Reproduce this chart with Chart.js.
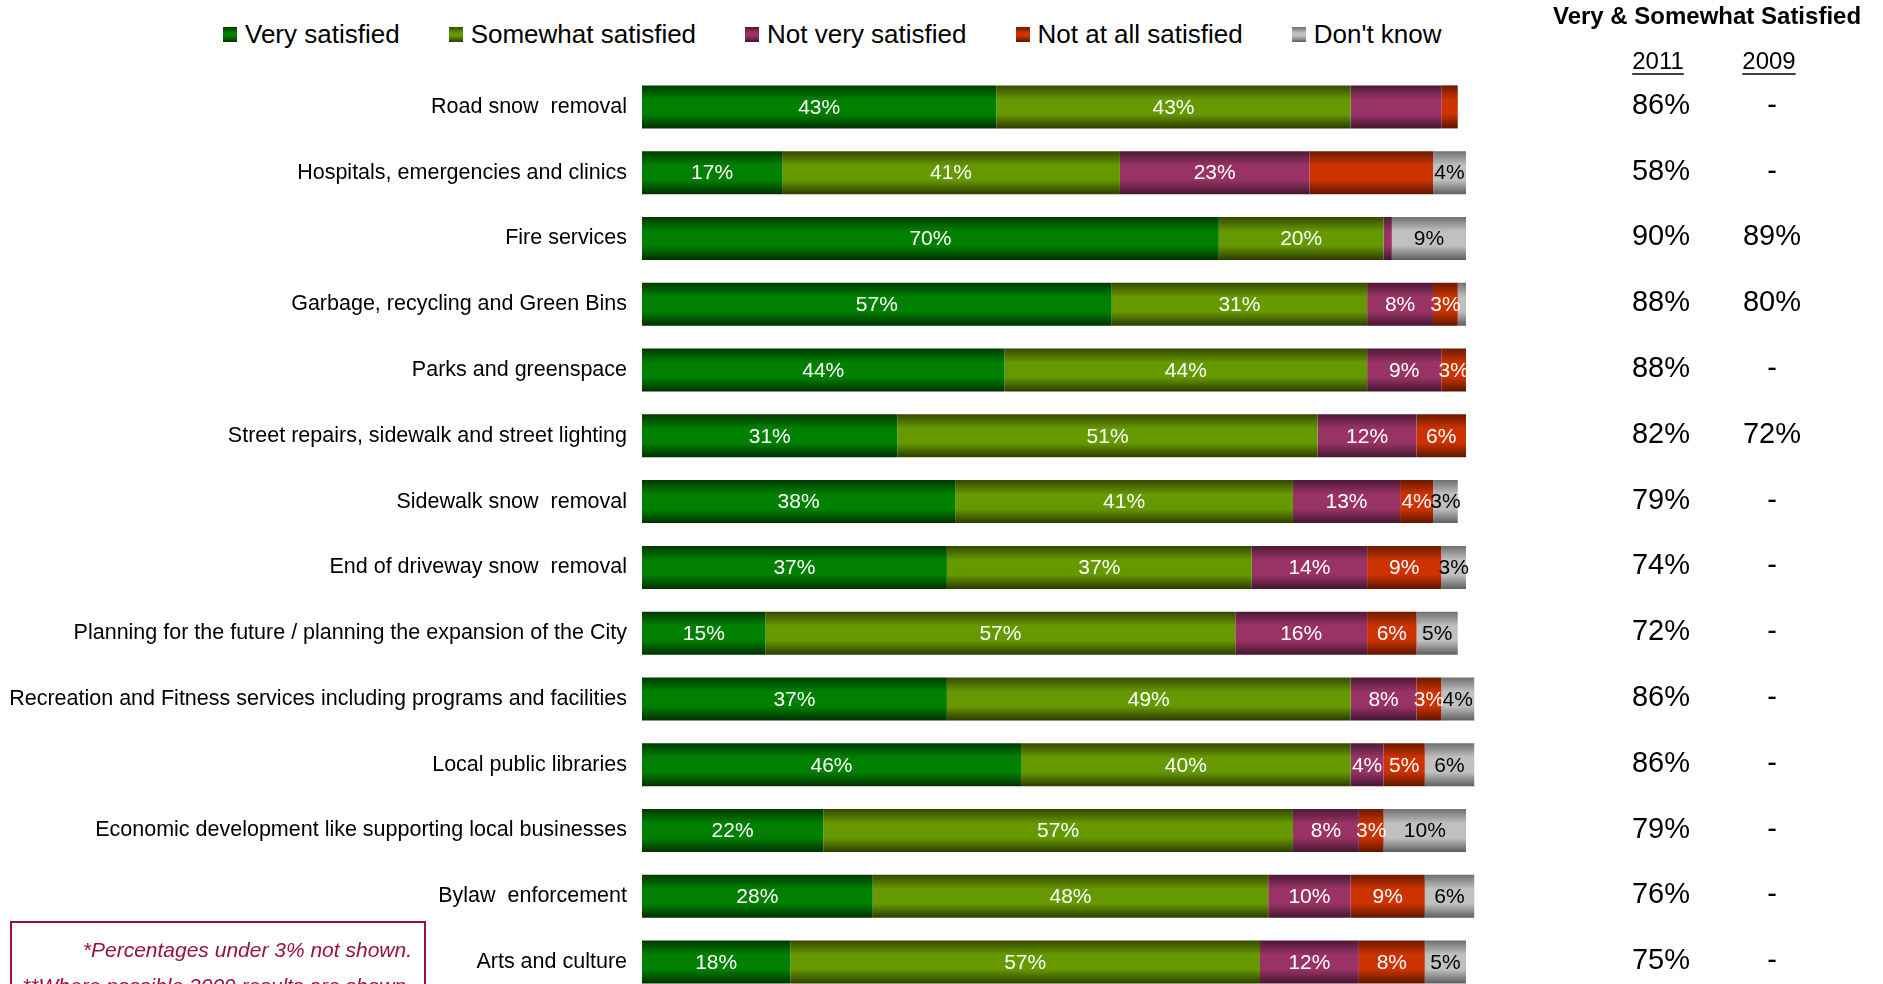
<!DOCTYPE html>
<html>
<head>
<meta charset="utf-8">
<title>Satisfaction with city services</title>
<script src="https://cdn.jsdelivr.net/npm/chart.js@4.4.1/dist/chart.umd.min.js"></script>
<style>
    html, body { margin: 0; padding: 0; background: #fff; overflow: hidden; }
    body { width: 1883px; height: 984px; position: relative; font-family: 'Liberation Sans', Arial, sans-serif; }
    #chart { position: absolute; left: 0; top: 0; }
    .legend { position: absolute; left: 223px; top: 18px; display: flex; gap: 49px; font-size: 26px; line-height: 32px; color: #000; white-space: nowrap; }
    .legend .item { display: flex; align-items: center; }
    .legend i { display: inline-block; width: 14px; height: 15px; margin-right: 8px; }
    .note { position: absolute; left: 10px; top: 921px; width: 416px; height: 120px; box-sizing: border-box;
            border: 2px solid #9c0f3f; padding: 9px 12px 0 0; text-align: right;
            font-style: italic; font-size: 21px; line-height: 36px; color: #9c0f3f; white-space: nowrap; }
</style>
</head>
<body>
<div class="legend" id="legend"></div>
<canvas id="chart" width="1883" height="995"></canvas>
<div class="note">
    <div>*Percentages under 3% not shown.</div>
    <div>**Where possible 2009 results are shown.</div>
</div>
<script>
const FONT = "'Liberation Sans', Arial, sans-serif";

const categories = [
    'Road snow  removal',
    'Hospitals, emergencies and clinics',
    'Fire services',
    'Garbage, recycling and Green Bins',
    'Parks and greenspace',
    'Street repairs, sidewalk and street lighting',
    'Sidewalk snow  removal',
    'End of driveway snow  removal',
    'Planning for the future / planning the expansion of the City',
    'Recreation and Fitness services including programs and facilities',
    'Local public libraries',
    'Economic development like supporting local businesses',
    'Bylaw  enforcement',
    'Arts and culture'
];

const seriesNames = ['Very satisfied', 'Somewhat satisfied', 'Not very satisfied', 'Not at all satisfied', "Don't know"];

const verySatisfied     = [43, 17, 70, 57, 44, 31, 38, 37, 15, 37, 46, 22, 28, 18];
const somewhatSatisfied = [43, 41, 20, 31, 44, 51, 41, 37, 57, 49, 40, 57, 48, 57];
const notVerySatisfied  = [11, 23,  1,  8,  9, 12, 13, 14, 16,  8,  4,  8, 10, 12];
const notAtAllSatisfied = [ 2, 15,  0,  3,  3,  6,  4,  9,  6,  3,  5,  3,  9,  8];
const dontKnow          = [ 0,  4,  9,  1,  0,  0,  3,  3,  5,  4,  6, 10,  6,  5];

// very & somewhat satisfied, null = no 2009 result
const total2011 = [86, 58, 90, 88, 88, 82, 79, 74, 72, 86, 86, 79, 76, 75];
const total2009 = [null, null, 89, 80, null, 72, null, null, null, null, null, null, null, null];

// segments the original leaves unlabelled: [row, series]
const hiddenLabels = [[0, 2], [1, 3]];

// [bright middle, dark top, dark bottom]
const palette = [
    ['#008000', '#003a00', '#003000'],
    ['#669900', '#354800', '#2c3c00'],
    ['#993366', '#4e1a36', '#44162e'],
    ['#cc3300', '#6a1a00', '#5c1600'],
    ['#c0c0c0', '#707070', '#5e5e5e']
];

const BAR_PCT = 0.654;

function barFill(colors) {
    return (context) => {
        const chart = context.chart;
        const y = chart.scales.y;
        if (!y || context.dataIndex === undefined || !chart.chartArea) return colors[0];
        const c = y.getPixelForValue(context.dataIndex);
        const h = (chart.chartArea.height / categories.length) * BAR_PCT / 2;
        const g = chart.ctx.createLinearGradient(0, c - h, 0, c + h);
        g.addColorStop(0, colors[1]);
        g.addColorStop(0.33, colors[0]);
        g.addColorStop(0.67, colors[0]);
        g.addColorStop(1, colors[2]);
        return g;
    };
}

// legend (html)
document.getElementById('legend').innerHTML = seriesNames.map((name, i) => `
    <span class="item"><i style="background: linear-gradient(${palette[i][1]}, ${palette[i][0]} 40%, ${palette[i][0]} 60%, ${palette[i][2]})"></i>${name}</span>
`).join('');

const overlay = {
    id: 'overlay',
    afterDatasetsDraw(chart) {
        const ctx = chart.ctx;
        const yScale = chart.scales.y;
        ctx.save();
        ctx.textAlign = 'center';
        ctx.textBaseline = 'middle';

        // segment labels
        ctx.font = `21px ${FONT}`;
        chart.data.datasets.forEach((ds, di) => {
            chart.getDatasetMeta(di).data.forEach((bar, i) => {
                const v = ds.data[i];
                if (v < 3 || hiddenLabels.some(h => h[0] === i && h[1] === di)) return;
                ctx.fillStyle = di === 4 ? '#000' : '#fff';
                ctx.fillText(v + '%', (bar.x + bar.base) / 2, bar.y + 1);
            });
        });

        // right-hand table
        const x2011 = 1661, x2009 = 1772;
        ctx.fillStyle = '#000';
        ctx.font = `bold 24px ${FONT}`;
        ctx.fillText('Very & Somewhat Satisfied', 1707, 17);

        ctx.font = `24px ${FONT}`;
        ctx.strokeStyle = '#000';
        ctx.lineWidth = 1.5;
        [['2011', x2011 - 3], ['2009', x2009 - 3]].forEach(([t, x]) => {
            ctx.fillText(t, x, 62);
            const w = ctx.measureText(t).width;
            ctx.beginPath();
            ctx.moveTo(x - w / 2, 74);
            ctx.lineTo(x + w / 2, 74);
            ctx.stroke();
        });

        ctx.font = `29px ${FONT}`;
        categories.forEach((c, i) => {
            const y = yScale.getPixelForValue(i) - 1;
            ctx.fillText(total2011[i] + '%', x2011, y);
            ctx.fillText(total2009[i] === null ? '-' : total2009[i] + '%', x2009, y);
        });
        ctx.restore();
    }
};

const seriesData = [verySatisfied, somewhatSatisfied, notVerySatisfied, notAtAllSatisfied, dontKnow];

new Chart(document.getElementById('chart'), {
    type: 'bar',
    data: {
        labels: categories,
        datasets: seriesNames.map((name, i) => ({
            label: name,
            data: seriesData[i],
            backgroundColor: barFill(palette[i]),
            borderWidth: 0,
            barPercentage: BAR_PCT,
            categoryPercentage: 1,
            clip: false
        }))
    },
    options: {
        indexAxis: 'y',
        responsive: false,
        animation: false,
        devicePixelRatio: 1,
        layout: { padding: { left: 0, right: 417, top: 74, bottom: 0 } },
        plugins: { legend: { display: false }, tooltip: { enabled: false } },
        scales: {
            x: { stacked: true, display: false, min: 0, max: 100 },
            y: {
                stacked: true,
                grid: { display: false, drawTicks: false },
                border: { display: false },
                ticks: { padding: 15, color: '#000', font: { size: 21.5, family: FONT } },
                afterFit(scale) {
                    scale.width = 642;
                    scale.paddingTop = 0;
                    scale.paddingBottom = 0;
                }
            }
        }
    },
    plugins: [overlay]
});
</script>
</body>
</html>
